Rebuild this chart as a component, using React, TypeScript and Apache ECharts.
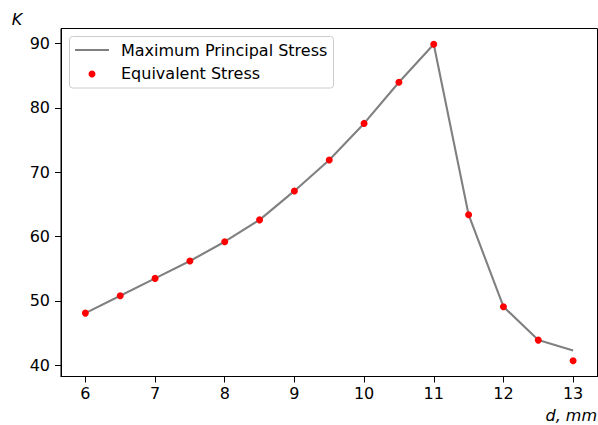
import React, { useEffect, useRef } from "react";
import * as echarts from "echarts";

const dValues = [6, 6.5, 7, 7.5, 8, 8.5, 9, 9.5, 10, 10.5, 11, 11.5, 12, 12.5, 13];
const principalStress = [48.1, 50.8, 53.5, 56.2, 59.2, 62.6, 67.1, 71.9, 77.6, 84.0, 89.9, 63.4, 49.1, 43.9, 42.3];
const equivalentStress = [48.1, 50.8, 53.5, 56.2, 59.2, 62.6, 67.1, 71.9, 77.6, 84.0, 89.9, 63.4, 49.1, 43.9, 40.7];
const xTicks = [6, 7, 8, 9, 10, 11, 12, 13];
const yTicks = [40, 50, 60, 70, 80, 90];
const legendNames = ["Maximum Principal Stress", "Equivalent Stress"];

const FONT = "DejaVu Sans";
const FS = 16;

export default function App() {
  const ref = useRef<HTMLDivElement>(null);
  useEffect(() => {
    if (!ref.current) return;
    const chart = echarts.init(ref.current, undefined, { renderer: "svg" });
    const axisCommon = {
      axisLine: { show: true, lineStyle: { color: "#000", width: 1 } },
      axisTick: { show: true, length: 6, inside: false, lineStyle: { color: "#000", width: 1 } },
      splitLine: { show: false },
      axisLabel: { color: "#000", fontSize: FS, fontFamily: FONT },
    };
    chart.setOption({
      animation: false,
      backgroundColor: "#fff",
      grid: { left: 61, top: 28.5, right: 0.5, bottom: 48.5, show: true, borderColor: "#000", borderWidth: 1, containLabel: false },
      xAxis: {
        type: "value",
        min: 5.65,
        max: 13.35,
        ...axisCommon,
        axisTick: { ...axisCommon.axisTick, customValues: xTicks },
        axisLabel: { ...axisCommon.axisLabel, margin: 9, customValues: xTicks },
      },
      yAxis: {
        type: "value",
        min: 38.24,
        max: 92.36,
        ...axisCommon,
        axisTick: { ...axisCommon.axisTick, customValues: yTicks },
        axisLabel: { ...axisCommon.axisLabel, margin: 11, customValues: yTicks },
      },
      series: [
        {
          name: legendNames[0],
          type: "line",
          data: dValues.map((d, i) => [d, principalStress[i]]),
          showSymbol: false,
          symbol: "none",
          lineStyle: { color: "#808080", width: 2.1 },
          z: 2,
        },
        {
          name: legendNames[1],
          type: "scatter",
          data: dValues.map((d, i) => [d, equivalentStress[i]]),
          symbol: "circle",
          symbolSize: 7,
          itemStyle: { color: "#ff0000", opacity: 1 },
          z: 3,
        },
      ],
      graphic: [
        {
          type: "rect",
          shape: { x: 69.5, y: 36.5, width: 264, height: 51.5, r: 3 },
          style: { fill: "rgba(255,255,255,0.8)", stroke: "#cccccc", lineWidth: 1 },
          z: 10,
        },
        {
          type: "line",
          shape: { x1: 75, y1: 50, x2: 109, y2: 50 },
          style: { stroke: "#808080", lineWidth: 2.1 },
          z: 11,
        },
        {
          type: "circle",
          shape: { cx: 92, cy: 74, r: 3.5 },
          style: { fill: "#ff0000" },
          z: 11,
        },
        {
          type: "text",
          x: 121,
          y: 50,
          style: { text: legendNames[0], fill: "#000", fontSize: FS, fontFamily: FONT, verticalAlign: "middle", align: "left" },
          z: 11,
        },
        {
          type: "text",
          x: 121,
          y: 73,
          style: { text: legendNames[1], fill: "#000", fontSize: FS, fontFamily: FONT, verticalAlign: "middle", align: "left" },
          z: 11,
        },
        {
          type: "text",
          x: 17,
          y: 19,
          style: { text: "K", fill: "#000", fontSize: FS, fontFamily: FONT, fontStyle: "italic", align: "center", verticalAlign: "middle" },
        },
        {
          type: "text",
          x: 597,
          y: 415,
          style: { text: "d, mm", fill: "#000", fontSize: FS, fontFamily: FONT, fontStyle: "italic", align: "right", verticalAlign: "middle" },
        },
      ],
    });
    return () => chart.dispose();
  }, []);
  return <div ref={ref} style={{ position: "absolute", left: 0, top: 0, width: 598, height: 425 }} />;
}
